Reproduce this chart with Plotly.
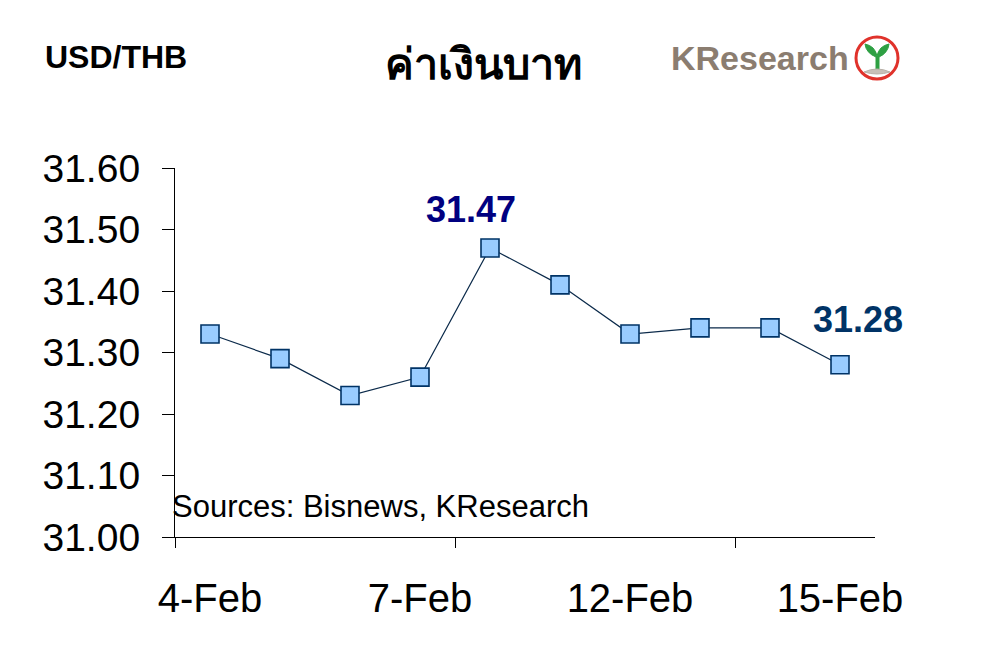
import plotly.graph_objects as go

dates = ['4-Feb', '5-Feb', '6-Feb', '7-Feb', '8-Feb', '11-Feb', '12-Feb', '13-Feb', '14-Feb', '15-Feb']
rates = [31.33, 31.29, 31.23, 31.26, 31.47, 31.41, 31.33, 31.34, 31.34, 31.28]
label_idx = [0, 3, 6, 9]
y_ticks = [31.00, 31.10, 31.20, 31.30, 31.40, 31.50, 31.60]

idx = list(range(len(dates)))

# screen-pixel layout helpers (page has an 8px body margin)
OFF = 8
PL, PR, PT, PB = 175, 875, 168, 537
W, H = 1002, 658


def px(x):
    return (x - PL) / (PR - PL)


def py(y):
    return (PB - y) / (PB - PT)


fig = go.Figure()
fig.add_trace(go.Scatter(
    x=idx, y=rates, mode='lines+markers',
    line=dict(color='#0B2A4A', width=1.2),
    marker=dict(symbol='square', size=18, color='#99CCFF', line=dict(color='#003366', width=1.6)),
    showlegend=False, hoverinfo='skip'))

font = 'Liberation Sans, Arial, sans-serif'
fig.update_layout(
    width=W, height=H,
    margin=dict(l=PL - OFF, r=W - (PR - OFF), t=PT - OFF, b=H - (PB - OFF)),
    paper_bgcolor='white', plot_bgcolor='white',
    xaxis=dict(range=[-0.5, len(dates) - 0.5], tickmode='array',
               tickvals=label_idx, ticktext=[dates[i] for i in label_idx],
               ticks='', showline=True, linecolor='black', linewidth=1.2,
               showgrid=False, zeroline=False, ticklabelstandoff=26,
               tickfont=dict(family=font, size=40, color='black'),
               minor=dict(tickmode='array', tickvals=[-0.5, 3.5, 7.5], ticks='outside',
                          ticklen=10, tickcolor='black', tickwidth=1.2, showgrid=False)),
    yaxis=dict(range=[31.0, 31.6], tickmode='array', tickvals=y_ticks,
               ticktext=[f'{v:.2f}' for v in y_ticks],
               ticks='outside', ticklen=12, tickcolor='black', tickwidth=1.2,
               showline=True, linecolor='black', linewidth=1.2,
               showgrid=False, zeroline=False, ticklabelstandoff=14,
               tickfont=dict(family=font, size=39, color='black')),
    font=dict(family=font),
)

fig.add_annotation(text='USD/THB', xref='paper', yref='paper', x=px(43), y=py(57),
                   xanchor='left', yanchor='middle', showarrow=False,
                   font=dict(family=font, size=32, color='black', weight='bold'))
fig.add_annotation(text='ค่าเงินบาท', xref='paper', yref='paper', x=px(483), y=py(62),
                   xanchor='center', yanchor='middle', showarrow=False,
                   font=dict(family='Noto Sans, DejaVu Sans, sans-serif', size=43, color='black', weight='bold'))
fig.add_annotation(text='KResearch', xref='paper', yref='paper', x=px(669), y=py(58),
                   xanchor='left', yanchor='middle', showarrow=False,
                   font=dict(family='Liberation Sans Narrow, Liberation Sans, sans-serif', size=34,
                             color='#8B7D70', weight='bold'))
# logo circle
fig.add_shape(type='circle', xref='paper', yref='paper',
              x0=px(856), x1=px(898), y0=py(79), y1=py(37),
              line=dict(color='#E0322B', width=3), fillcolor='white')
fig.add_shape(type='path', xref='paper', yref='paper',
              path=f'M {px(876)} {py(72)} L {px(876)} {py(57)} '
                   f'Q {px(866)} {py(53)} {px(865)} {py(44)} '
                   f'Q {px(875)} {py(46)} {px(877)} {py(56)} '
                   f'Q {px(879)} {py(46)} {px(889)} {py(44)} '
                   f'Q {px(888)} {py(53)} {px(879)} {py(57)} '
                   f'L {px(879)} {py(72)} Z',
              line=dict(color='#2EA043', width=1), fillcolor='#2EA043')
fig.add_shape(type='path', xref='paper', yref='paper',
              path=f'M {px(864)} {py(72)} Q {px(877)} {py(66)} {px(890)} {py(72)} '
                   f'Q {px(877)} {py(76)} {px(864)} {py(72)} Z',
              line=dict(color='#B8B0A8', width=1), fillcolor='#C8C0B8')

fig.add_annotation(text='31.47', x=4, y=rates[4], yshift=38, xshift=-19, showarrow=False,
                   font=dict(family=font, size=36, color='#000080', weight='bold'))
fig.add_annotation(text='31.28', x=9, y=rates[9], yshift=45, xshift=18, showarrow=False,
                   font=dict(family=font, size=36, color='#003366', weight='bold'))
fig.add_annotation(text='Sources: Bisnews, KResearch', xref='paper', yref='paper',
                   x=px(170), y=py(506), xanchor='left', yanchor='middle', showarrow=False,
                   font=dict(family=font, size=31, color='black'))

fig.write_html('out.html')
